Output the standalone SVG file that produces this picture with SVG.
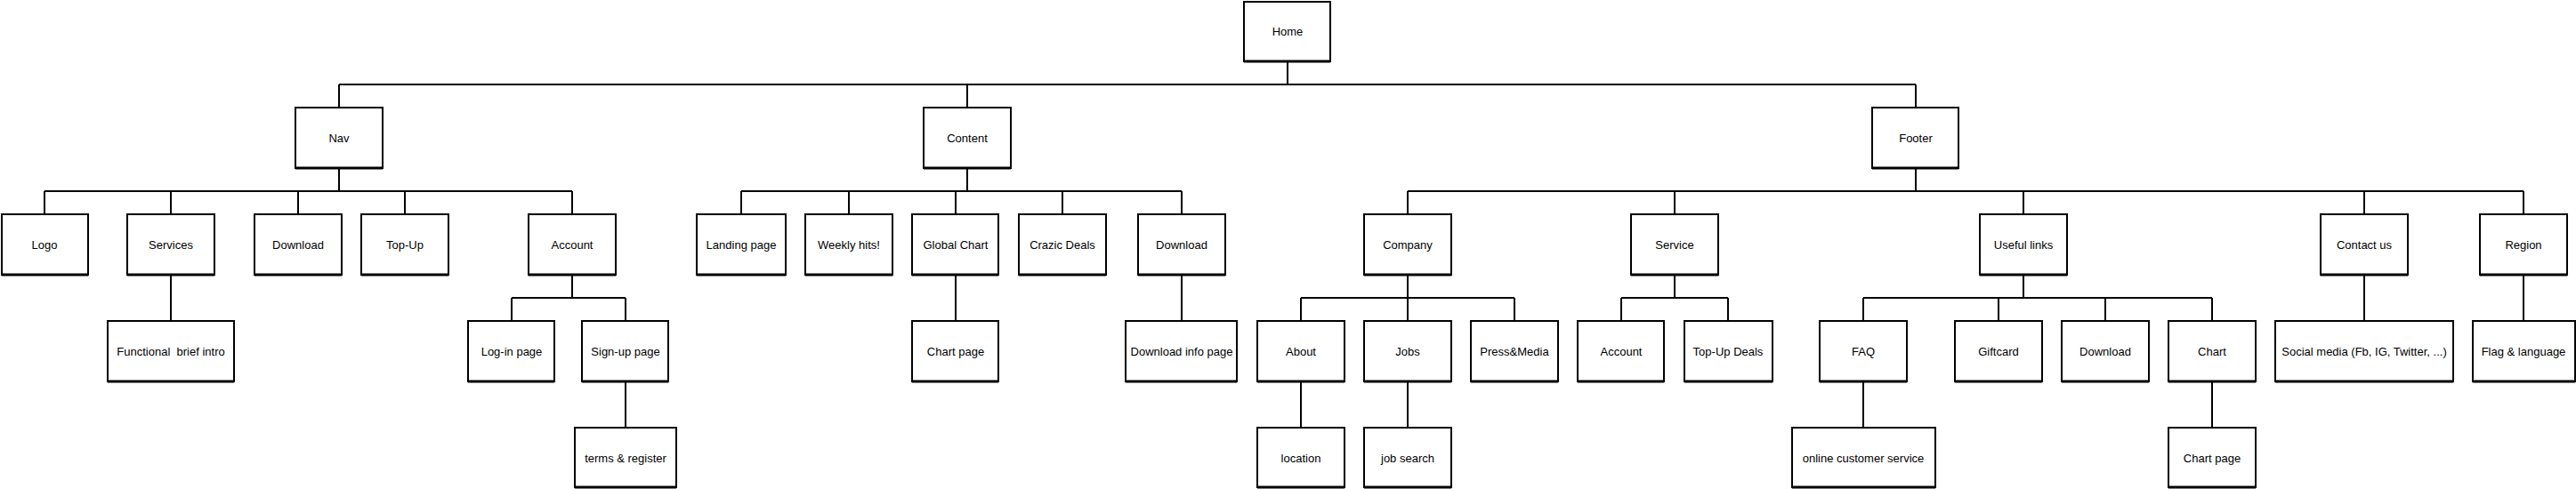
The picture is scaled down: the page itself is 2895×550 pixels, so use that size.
<svg xmlns="http://www.w3.org/2000/svg" width="2895" height="550" viewBox="0 0 2895 550">
<style>
.b{fill:#fff;stroke:#000;stroke-width:2}
.s{stroke:#000;stroke-width:3;fill:none}
.t{font-family:"Liberation Sans",Arial,sans-serif;font-size:13px;fill:#000;text-anchor:middle;dominant-baseline:central}
.c{stroke:#000;stroke-width:2;fill:none}
</style>
<rect width="2895" height="550" fill="#fff"/>
<g id="connectors">
<path class="c" d="M1447 69V95M381 95H2153M381 95V121M1087 95V121M2153 95V121"/>
<path class="c" d="M381 189V215M50 215H643M50 215V241M192 215V241M335 215V241M455 215V241M643 215V241"/>
<path class="c" d="M1087 189V215M833 215H1328M833 215V241M954 215V241M1074 215V241M1194 215V241M1328 215V241"/>
<path class="c" d="M2153 189V215M1582 215H2836M1582 215V241M1882 215V241M2274 215V241M2657 215V241M2836 215V241"/>
<path class="c" d="M192 309V361"/>
<path class="c" d="M643 309V335M575 335H703M575 335V361M703 335V361M703 429V481"/>
<path class="c" d="M1074 309V361M1328 309V361"/>
<path class="c" d="M1582 309V335M1462 335H1702M1462 335V361M1582 335V361M1702 335V361M1462 429V481M1582 429V481"/>
<path class="c" d="M1882 309V335M1822 335H1942M1822 335V361M1942 335V361"/>
<path class="c" d="M2274 309V335M2094 335H2486M2094 335V361M2246 335V361M2366 335V361M2486 335V361M2094 429V481M2486 429V481"/>
<path class="c" d="M2657 309V361M2836 309V361"/>
</g>
<g id="home"><rect class="b" x="1398" y="2" width="97" height="67"/><path class="s" d="M1398 69H1495"/><text class="t" x="1447" y="35">Home</text></g>
<g id="nav"><rect class="b" x="332" y="121" width="98" height="68"/><path class="s" d="M332 189H430"/><text class="t" x="381" y="155">Nav</text></g>
<g id="content"><rect class="b" x="1038" y="121" width="98" height="68"/><path class="s" d="M1038 189H1136"/><text class="t" x="1087" y="155">Content</text></g>
<g id="footer"><rect class="b" x="2104" y="121" width="97" height="68"/><path class="s" d="M2104 189H2201"/><text class="t" x="2153" y="155">Footer</text></g>
<g id="logo"><rect class="b" x="2" y="241" width="97" height="68"/><path class="s" d="M2 309H99"/><text class="t" x="50" y="275">Logo</text></g>
<g id="services"><rect class="b" x="143" y="241" width="98" height="68"/><path class="s" d="M143 309H241"/><text class="t" x="192" y="275">Services</text></g>
<g id="nav-download"><rect class="b" x="286" y="241" width="98" height="68"/><path class="s" d="M286 309H384"/><text class="t" x="335" y="275">Download</text></g>
<g id="topup"><rect class="b" x="406" y="241" width="98" height="68"/><path class="s" d="M406 309H504"/><text class="t" x="455" y="275">Top-Up</text></g>
<g id="account"><rect class="b" x="594" y="241" width="98" height="68"/><path class="s" d="M594 309H692"/><text class="t" x="643" y="275">Account</text></g>
<g id="landing"><rect class="b" x="783" y="241" width="100" height="68"/><path class="s" d="M783 309H883"/><text class="t" x="833" y="275">Landing page</text></g>
<g id="weekly"><rect class="b" x="905" y="241" width="98" height="68"/><path class="s" d="M905 309H1003"/><text class="t" x="954" y="275">Weekly hits!</text></g>
<g id="globalchart"><rect class="b" x="1025" y="241" width="97" height="68"/><path class="s" d="M1025 309H1122"/><text class="t" x="1074" y="275">Global Chart</text></g>
<g id="crazic"><rect class="b" x="1145" y="241" width="98" height="68"/><path class="s" d="M1145 309H1243"/><text class="t" x="1194" y="275">Crazic Deals</text></g>
<g id="content-download"><rect class="b" x="1279" y="241" width="98" height="68"/><path class="s" d="M1279 309H1377"/><text class="t" x="1328" y="275">Download</text></g>
<g id="company"><rect class="b" x="1533" y="241" width="98" height="68"/><path class="s" d="M1533 309H1631"/><text class="t" x="1582" y="275">Company</text></g>
<g id="service"><rect class="b" x="1833" y="241" width="98" height="68"/><path class="s" d="M1833 309H1931"/><text class="t" x="1882" y="275">Service</text></g>
<g id="useful"><rect class="b" x="2225" y="241" width="98" height="68"/><path class="s" d="M2225 309H2323"/><text class="t" x="2274" y="275">Useful links</text></g>
<g id="contact"><rect class="b" x="2608" y="241" width="98" height="68"/><path class="s" d="M2608 309H2706"/><text class="t" x="2657" y="275">Contact us</text></g>
<g id="region"><rect class="b" x="2787" y="241" width="98" height="68"/><path class="s" d="M2787 309H2885"/><text class="t" x="2836" y="275">Region</text></g>
<g id="functional"><rect class="b" x="121" y="361" width="142" height="68"/><path class="s" d="M121 429H263"/><text class="t" x="192" y="395" xml:space="preserve">Functional  brief intro</text></g>
<g id="login"><rect class="b" x="526" y="361" width="97" height="68"/><path class="s" d="M526 429H623"/><text class="t" x="575" y="395">Log-in page</text></g>
<g id="signup"><rect class="b" x="654" y="361" width="97" height="68"/><path class="s" d="M654 429H751"/><text class="t" x="703" y="395">Sign-up page</text></g>
<g id="chartpage1"><rect class="b" x="1025" y="361" width="97" height="68"/><path class="s" d="M1025 429H1122"/><text class="t" x="1074" y="395">Chart page</text></g>
<g id="downloadinfo"><rect class="b" x="1265" y="361" width="125" height="68"/><path class="s" d="M1265 429H1390"/><text class="t" x="1328" y="395">Download info page</text></g>
<g id="about"><rect class="b" x="1413" y="361" width="98" height="68"/><path class="s" d="M1413 429H1511"/><text class="t" x="1462" y="395">About</text></g>
<g id="jobs"><rect class="b" x="1533" y="361" width="98" height="68"/><path class="s" d="M1533 429H1631"/><text class="t" x="1582" y="395">Jobs</text></g>
<g id="press"><rect class="b" x="1653" y="361" width="98" height="68"/><path class="s" d="M1653 429H1751"/><text class="t" x="1702" y="395">Press&amp;Media</text></g>
<g id="service-account"><rect class="b" x="1773" y="361" width="97" height="68"/><path class="s" d="M1773 429H1870"/><text class="t" x="1822" y="395">Account</text></g>
<g id="topupdeals"><rect class="b" x="1893" y="361" width="99" height="68"/><path class="s" d="M1893 429H1992"/><text class="t" x="1942" y="395">Top-Up Deals</text></g>
<g id="faq"><rect class="b" x="2045" y="361" width="98" height="68"/><path class="s" d="M2045 429H2143"/><text class="t" x="2094" y="395">FAQ</text></g>
<g id="giftcard"><rect class="b" x="2197" y="361" width="98" height="68"/><path class="s" d="M2197 429H2295"/><text class="t" x="2246" y="395">Giftcard</text></g>
<g id="useful-download"><rect class="b" x="2317" y="361" width="98" height="68"/><path class="s" d="M2317 429H2415"/><text class="t" x="2366" y="395">Download</text></g>
<g id="chart"><rect class="b" x="2437" y="361" width="98" height="68"/><path class="s" d="M2437 429H2535"/><text class="t" x="2486" y="395">Chart</text></g>
<g id="social"><rect class="b" x="2557" y="361" width="200" height="68"/><path class="s" d="M2557 429H2757"/><text class="t" x="2657" y="395">Social media (Fb, IG, Twitter, ...)</text></g>
<g id="flag"><rect class="b" x="2779" y="361" width="115" height="68"/><path class="s" d="M2779 429H2894"/><text class="t" x="2836" y="395">Flag &amp; language</text></g>
<g id="terms"><rect class="b" x="646" y="481" width="114" height="67"/><path class="s" d="M646 548H760"/><text class="t" x="703" y="515">terms &amp; register</text></g>
<g id="location"><rect class="b" x="1413" y="481" width="98" height="67"/><path class="s" d="M1413 548H1511"/><text class="t" x="1462" y="515">location</text></g>
<g id="jobsearch"><rect class="b" x="1533" y="481" width="98" height="67"/><path class="s" d="M1533 548H1631"/><text class="t" x="1582" y="515">job search</text></g>
<g id="onlinecs"><rect class="b" x="2014" y="481" width="161" height="67"/><path class="s" d="M2014 548H2175"/><text class="t" x="2094" y="515">online customer service</text></g>
<g id="chartpage2"><rect class="b" x="2437" y="481" width="98" height="67"/><path class="s" d="M2437 548H2535"/><text class="t" x="2486" y="515">Chart page</text></g>
</svg>
